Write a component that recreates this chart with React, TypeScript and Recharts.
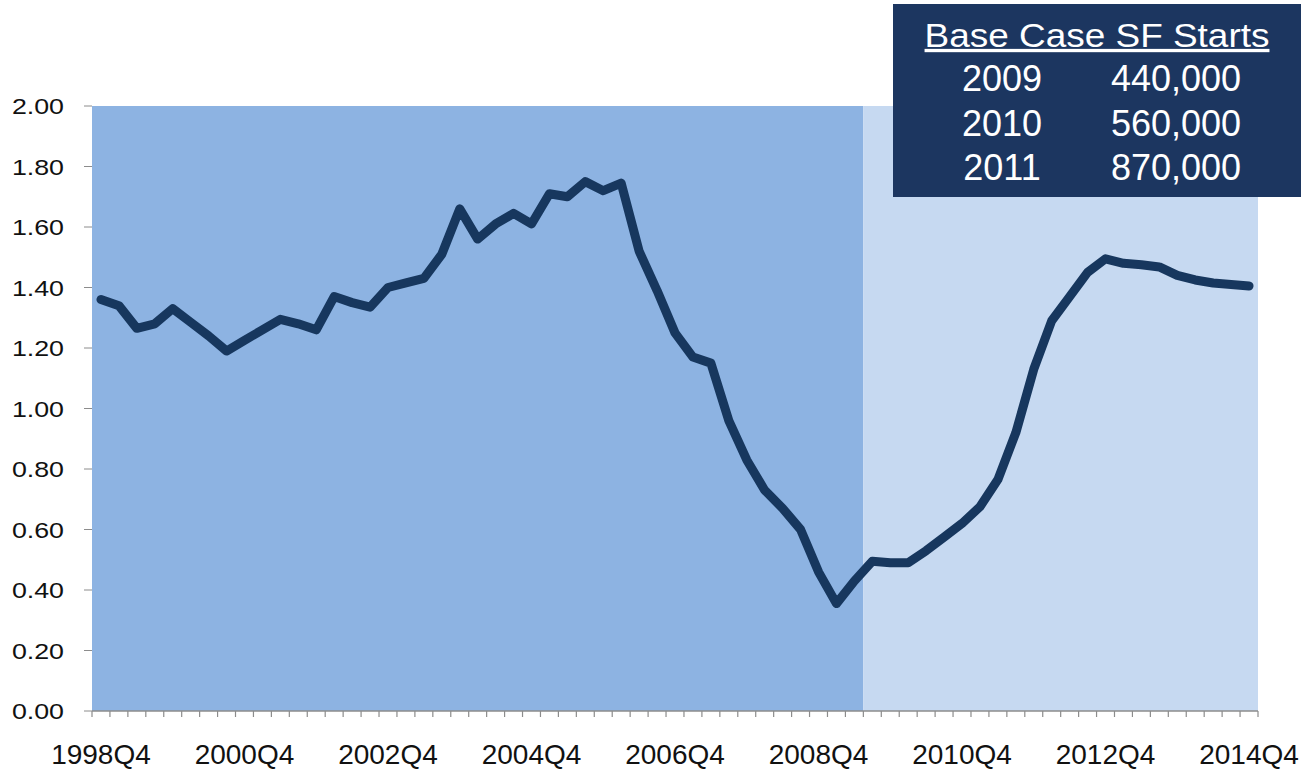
import { LineChart, Line, XAxis, YAxis, ReferenceArea } from 'recharts'

// quarterly ratio, 1998Q4 .. 2014Q4 (65 quarters)
const ratio = [
  1.36, 1.34, 1.265, 1.28, 1.33, 1.285, 1.24, 1.19, 1.225, 1.26, 1.295, 1.28, 1.26,
  1.37, 1.35, 1.335, 1.4, 1.415, 1.43, 1.51, 1.66, 1.56, 1.61, 1.645, 1.61, 1.71,
  1.7, 1.75, 1.72, 1.745, 1.52, 1.39, 1.25, 1.17, 1.15, 0.96, 0.83, 0.73, 0.67,
  0.6, 0.46, 0.355, 0.43, 0.495, 0.49, 0.49, 0.53, 0.575, 0.62, 0.675, 0.765, 0.92,
  1.13, 1.29, 1.37, 1.45, 1.495, 1.48, 1.475, 1.468, 1.44, 1.425, 1.415, 1.41, 1.405,
]
const tickLabels = ['1998Q4', '2000Q4', '2002Q4', '2004Q4', '2006Q4', '2008Q4', '2010Q4', '2012Q4', '2014Q4']
const yTicks = [0, 0.2, 0.4, 0.6, 0.8, 1.0, 1.2, 1.4, 1.6, 1.8, 2.0]
const forecastStart = 43 // first quarter of the lighter (projected) area

const startYears = ['2009', '2010', '2011']
const startValues = ['440,000', '560,000', '870,000']

const FONT = '"Liberation Sans", Arial, sans-serif'
const data = ratio.map((v, i) => ({ q: i + 0.5, v }))
const edgeTicks = Array.from({ length: ratio.length + 1 }, (_, i) => i)
const labelTicks = tickLabels.map((_, k) => k * 8 + 0.5)

const XTick = ({ x, y, payload }: any) => {
  const v = payload.value
  if (Number.isInteger(v)) return <line x1={x} x2={x} y1={y} y2={y + 6} stroke="#8c8c8c" strokeWidth={1.2} />
  return (
    <text x={x} y={y + 53} textAnchor="middle" fontSize={28} fill="#111" fontFamily={FONT}>
      {tickLabels[Math.round((v - 0.5) / 8)]}
    </text>
  )
}

const YTick = ({ x, y, payload }: any) => (
  <text transform={`translate(${x},${y + 8}) scale(1.19,1)`} textAnchor="end" fontSize={22.5} fill="#111" fontFamily={FONT}>
    {payload.value.toFixed(2)}
  </text>
)

export default function App() {
  return (
    <div style={{ position: 'absolute', left: 0, top: 0, width: 1306, height: 771, background: '#fff' }}>
      <LineChart width={1306} height={771} data={data} margin={{ top: 106, right: 48, left: 0, bottom: 0 }}>
        <ReferenceArea x1={0} x2={forecastStart} y1={0} y2={2} fill="#8db3e2" fillOpacity={1} stroke="none" />
        <ReferenceArea x1={forecastStart} x2={ratio.length} y1={0} y2={2} fill="#c6d9f1" fillOpacity={1} stroke="none" />
        <XAxis dataKey="q" type="number" domain={[0, ratio.length]} ticks={[...edgeTicks, ...labelTicks]} interval={0}
          height={60} tickSize={0} tickMargin={0} tick={<XTick />} axisLine={{ stroke: '#8c8c8c', strokeWidth: 1.5 }} />
        <YAxis domain={[0, 2]} ticks={yTicks} interval={0} width={92} tickSize={8} tickMargin={20}
          tick={<YTick />} tickLine={{ stroke: '#8c8c8c' }} axisLine={false} />
        <Line dataKey="v" type="linear" stroke="#17375e" strokeWidth={9} dot={false} strokeLinejoin="round"
          strokeLinecap="round" isAnimationActive={false} />
      </LineChart>
      <svg width={1306} height={771} style={{ position: 'absolute', left: 0, top: 0, pointerEvents: 'none' }}>
        <rect x={893} y={4} width={408} height={193} fill="#1c3660" />
        <text transform="translate(1097,47) scale(1.12,1)" textAnchor="middle" fontSize={33} fill="#fff"
          fontFamily={FONT} style={{ textDecoration: 'underline' }}>Base Case SF Starts</text>
        {startYears.map((yr, i) => (
          <g key={yr}>
            <text x={1002} y={91 + i * 44.5} textAnchor="middle" fontSize={36} fill="#fff" fontFamily={FONT}>{yr}</text>
            <text x={1176} y={91 + i * 44.5} textAnchor="middle" fontSize={36} fill="#fff" fontFamily={FONT}>{startValues[i]}</text>
          </g>
        ))}
      </svg>
    </div>
  )
}
